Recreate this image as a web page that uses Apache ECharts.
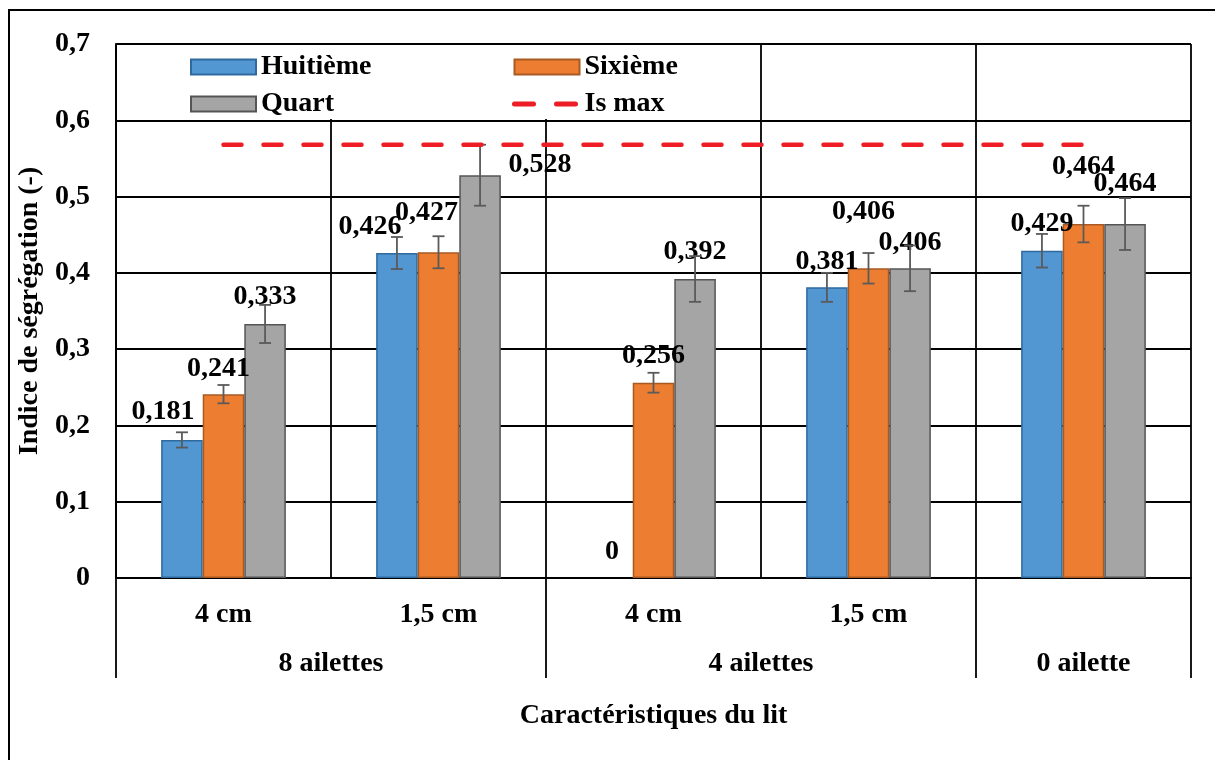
<!DOCTYPE html>
<html lang="fr">
  <head>
    <meta charset="UTF-8" />
    <title>Indice de ségrégation</title>
    <script src="https://cdn.jsdelivr.net/npm/echarts@6/dist/echarts.min.js"></script>
    <style>
      html, body { margin: 0; padding: 0; background: #fff; }
      .echarts { width: 1215px; height: 760px; }
    </style>
  </head>
  <body>
    <div class="echarts"></div>
    <script>
      // données
      const categories = ['4 cm', '1,5 cm', '4 cm', '1,5 cm', '']
      const groups = ['8 ailettes', '4 ailettes', '0 ailette']
      const groupSpans = [2, 2, 1]
      const yTicks = [0, 0.1, 0.2, 0.3, 0.4, 0.5, 0.6, 0.7]

      const huitieme = [0.181, 0.426, 0, 0.381, 0.429]
      const sixieme = [0.241, 0.427, 0.256, 0.406, 0.464]
      const quart = [0.333, 0.528, 0.392, 0.406, 0.464]
      const isMax = [0.568, 0.568, 0.568, 0.568, 0.568]

      const errHuitieme = [0.01, 0.021, 0, 0.019, 0.022]
      const errSixieme = [0.012, 0.021, 0.013, 0.02, 0.024]
      const errQuart = [0.025, 0.04, 0.03, 0.03, 0.034]

      // décalage des étiquettes (placées à la main comme dans Excel)
      const offHuitieme = [[-19, -28], [-27, -26], [0, -26], [0, -26], [0, -27]]
      const offSixieme = [[-5, -25], [-12, -39], [0, -27], [-5, -57], [0, -57]]
      const offQuart = [[0, -27], [60, -10], [0, -27], [0, -26], [0, -40]]

      const FONT = 'Liberation Serif'
      const FS = 28
      const GAP = 0.42
      const RED = '#EE1C25'
      const DASH = { color: RED, width: 4.5, type: [18, 22], cap: 'round' }
      const txt = { fontFamily: FONT, fontWeight: 'bold', fontSize: FS, color: '#000' }
      const comma = v => String(v).replace('.', ',')

      // centres et bornes des groupes sur l'axe 0..5
      const groupCenters = []
      const groupBounds = [0]
      let acc = 0
      groupSpans.forEach(s => { groupCenters.push(acc + s / 2); acc += s; groupBounds.push(acc) })

      function barSeries(name, values, offsets, color, border) {
        return {
          name, type: 'bar', xAxisIndex: 0,
          barGap: '0%', barCategoryGap: (GAP * 100) + '%',
          itemStyle: { color, borderColor: border, borderWidth: 1.5 },
          data: values.map((v, i) => ({
            value: v,
            itemStyle: v === 0 ? { borderWidth: 0 } : undefined,
            label: { offset: [offsets[i][0], offsets[i][1] + FS / 2] }
          })),
          label: {
            show: true, position: 'top', distance: 0,
            formatter: p => comma(p.value), ...txt
          },
          z: 2
        }
      }

      function errSeries(values, errs, k) {
        return {
          type: 'custom', xAxisIndex: 0, z: 5, silent: true,
          data: values.map((v, i) => [i, v, errs[i]]),
          encode: { x: 0, y: 1 },
          renderItem: (params, api) => {
            const cat = api.value(0), val = api.value(1), err = api.value(2)
            if (!err) return
            const band = api.size([1, 0])[0]
            const bw = band * (1 - GAP) / 3
            const x = api.coord([cat, val])[0] + (k - 1) * bw
            const yt = api.coord([cat, val + err])[1]
            const yb = api.coord([cat, val - err])[1]
            const st = { stroke: '#5a5a5a', lineWidth: 1.8 }
            return {
              type: 'group',
              children: [
                { type: 'line', shape: { x1: x, y1: yt, x2: x, y2: yb }, style: st },
                { type: 'line', shape: { x1: x - 6, y1: yt, x2: x + 6, y2: yt }, style: st },
                { type: 'line', shape: { x1: x - 6, y1: yb, x2: x + 6, y2: yb }, style: st }
              ]
            }
          }
        }
      }

      const legendBase = {
        orient: 'vertical', top: 53, padding: 0, itemGap: 9,
        itemWidth: 65, itemHeight: 15, textStyle: { ...txt, lineHeight: 28 }, z: 4
      }

      const myCharts = echarts.init(document.querySelector('.echarts'))
      const option = {
        animation: false,
        backgroundColor: '#fff',
        grid: { left: 116, right: 24, top: 44, bottom: 182 },
        graphic: [
          // cadre extérieur
          { type: 'rect', shape: { x: 9, y: 10, width: 1300, height: 900 },
            style: { fill: 'none', stroke: '#000', lineWidth: 2 }, z: 0 },
          // fond blanc de la légende
          { type: 'rect', shape: { x: 117, y: 45, width: 643, height: 74 },
            style: { fill: '#fff' }, z: 1 }
        ],
        legend: [
          {
            ...legendBase, left: 190,
            data: [{ name: 'Huitième', icon: 'rect' }, { name: 'Quart', icon: 'rect' }]
          },
          {
            ...legendBase, left: 512,
            data: [{ name: 'Sixième', icon: 'rect' }, {
              name: 'Is max',
              itemStyle: { opacity: 0 },
              lineStyle: { color: RED, width: 5, type: [19, 23], cap: 'round' }
            }]
          }
        ],
        xAxis: [
          {
            type: 'category', data: categories, position: 'bottom',
            axisLine: { lineStyle: { color: '#000', width: 2 } },
            axisTick: { show: false },
            axisLabel: { ...txt, margin: 23 },
            splitLine: { show: true, interval: 0, lineStyle: { color: '#000', width: 1.8 } }
          },
          {
            type: 'value', min: 0, max: 5, position: 'bottom',
            axisLine: { show: false },
            splitLine: { show: false },
            axisTick: {
              show: true, customValues: groupBounds, length: 100,
              lineStyle: { color: '#000', width: 1.8 }
            },
            axisLabel: {
              customValues: groupCenters, margin: 72, ...txt,
              formatter: v => groups[groupCenters.indexOf(v)]
            },
            name: 'Caractéristiques du lit', nameLocation: 'middle', nameGap: 124,
            nameTextStyle: txt
          }
        ],
        yAxis: {
          type: 'value', min: yTicks[0], max: yTicks[yTicks.length - 1], interval: 0.1,
          axisLine: { show: true, lineStyle: { color: '#000', width: 2 } },
          axisTick: { show: false },
          axisLabel: { ...txt, margin: 26, formatter: v => (v === 0 ? '0' : v.toFixed(1).replace('.', ',')) },
          splitLine: { lineStyle: { color: '#000', width: 1.8 } },
          name: 'Indice de ségrégation (-)', nameLocation: 'middle', nameRotate: 90,
          nameGap: 66, nameTextStyle: txt
        },
        series: [
          barSeries('Huitième', huitieme, offHuitieme, '#5296D2', '#2F6A9F'),
          barSeries('Sixième', sixieme, offSixieme, '#ED7D31', '#A85A22'),
          barSeries('Quart', quart, offQuart, '#A5A5A5', '#555555'),
          errSeries(huitieme, errHuitieme, 0),
          errSeries(sixieme, errSixieme, 1),
          errSeries(quart, errQuart, 2),
          {
            name: 'Is max', type: 'line', xAxisIndex: 0, data: isMax,
            symbol: 'none', z: 6,
            lineStyle: DASH,
            itemStyle: { color: RED }
          }
        ]
      }
      myCharts.setOption(option)
    </script>
  </body>
</html>
